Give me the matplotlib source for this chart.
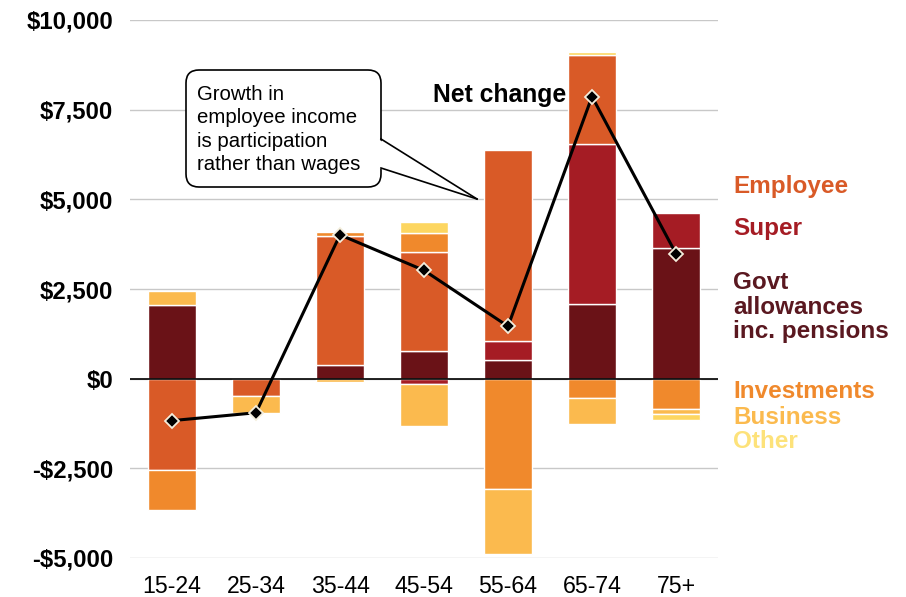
import numpy as np
import matplotlib
matplotlib.use("Agg")
import matplotlib.pyplot as plt
from matplotlib.patches import FancyBboxPatch, Polygon
from matplotlib.lines import Line2D
from matplotlib.ticker import FuncFormatter

plt.rcParams['font.family'] = ['Liberation Sans', 'DejaVu Sans']

# Change in average income by source, per age group ($)
age_groups = ["15-24", "25-34", "35-44", "45-54", "55-64", "65-74", "75+"]
govt = [2050, 0, 370, 760, 530, 2095, 3630]
super_income = [0, 0, 0, -150, 520, 4440, 1000]
employee = [-2550, -480, 3620, 2770, 5325, 2480, 0]
investments = [-1120, 0, 110, 520, -3080, -540, -850]
business = [400, -470, -90, -1180, -1815, -735, -130]
other = [0, 0, 0, 315, 0, 100, -160]
net_change = [-1170, -950, 4010, 3020, 1460, 7865, 3483]

y_ticks = [-5000, -2500, 0, 2500, 5000, 7500, 10000]

colors = {
    "Employee": "#D95A27",
    "Super": "#A51C24",
    "Govt": "#6A1217",
    "Investments": "#F0892C",
    "Business": "#FBBA4E",
    "Other": "#FDD660",
}

# stacking order from the zero line outwards
series = [
    (govt, colors["Govt"]),
    (super_income, colors["Super"]),
    (employee, colors["Employee"]),
    (investments, colors["Investments"]),
    (business, colors["Business"]),
    (other, colors["Other"]),
]

W, H = 906, 597
fig = plt.figure(figsize=(W / 100, H / 100), dpi=100)
ax = fig.add_axes([130 / W, 1 - 558 / H, 588 / W, 538 / H])

x = np.arange(len(age_groups))
pos = np.zeros(len(x))
neg = np.zeros(len(x))
for vals, col in series:
    v = np.array(vals, dtype=float)
    base = np.where(v >= 0, pos, neg)
    mask = v != 0
    ax.bar(x[mask], v[mask], bottom=base[mask], width=0.57, color=col,
           edgecolor="white", linewidth=1.0, zorder=2)
    pos = pos + np.where(v > 0, v, 0)
    neg = neg + np.where(v < 0, v, 0)

ax.axhline(0, color="black", lw=1.2, zorder=3)
ax.plot(x, net_change, color="black", lw=2.2, marker="D", ms=7.5,
        mfc="black", mec="#F4EEDC", mew=1.3, zorder=5)

ax.set_xlim(-0.5, len(x) - 0.5)
ax.set_ylim(-5000, 10000)
ax.set_yticks(y_ticks)
ax.yaxis.set_major_formatter(FuncFormatter(
    lambda v, p: ("-$" if v < 0 else "$") + f"{abs(int(v)):,}"))
ax.set_xticks(x)
ax.set_xticklabels(age_groups)
ax.tick_params(axis="y", length=0, pad=12, labelsize=17.2)
ax.tick_params(axis="x", length=0, pad=12.5, labelsize=16.7)
for lbl in ax.get_yticklabels():
    lbl.set_fontweight("bold")
ax.yaxis.grid(True, color="#C8C8C8", lw=1.0)
ax.set_axisbelow(True)
for s in ax.spines.values():
    s.set_visible(False)

# overlay in pixel coordinates for annotations and the side legend
ov = fig.add_axes([0, 0, 1, 1])
ov.set_xlim(0, W)
ov.set_ylim(H, 0)
ov.axis("off")
ov.patch.set_alpha(0)

box = FancyBboxPatch((186, 70), 195, 117,
                     boxstyle="round,pad=0,rounding_size=13",
                     fc="white", ec="black", lw=1.2, zorder=3)
ov.add_patch(box)
ov.add_patch(Polygon([(378, 139), (477, 199), (378, 168)], closed=True,
                     fc="white", ec="none", zorder=4))
ov.add_line(Line2D([381, 477], [139, 199], color="black", lw=1.2, zorder=5))
ov.add_line(Line2D([381, 477], [168, 199], color="black", lw=1.2, zorder=5))
ov.text(197, 129.5, "Growth in\nemployee income\nis participation\nrather than wages",
        fontsize=14.7, va="center", ha="left", linespacing=1.27, zorder=6)

ov.text(433, 95, "Net change", fontsize=17.8, fontweight="bold",
        va="center", ha="left")

legend_items = [
    ("Employee", colors["Employee"], 187),
    ("Super", colors["Super"], 229),
    ("Govt\nallowances\ninc. pensions", "#5A1820", 307),
    ("Investments", colors["Investments"], 392),
    ("Business", colors["Business"], 417),
    ("Other", "#FDE27A", 442),
]
for label, col, yy in legend_items:
    ov.text(733, yy, label, color=col, fontsize=17.5, fontweight="bold",
            va="center", ha="left", linespacing=1.08)

fig.savefig("out.png", dpi=100)
